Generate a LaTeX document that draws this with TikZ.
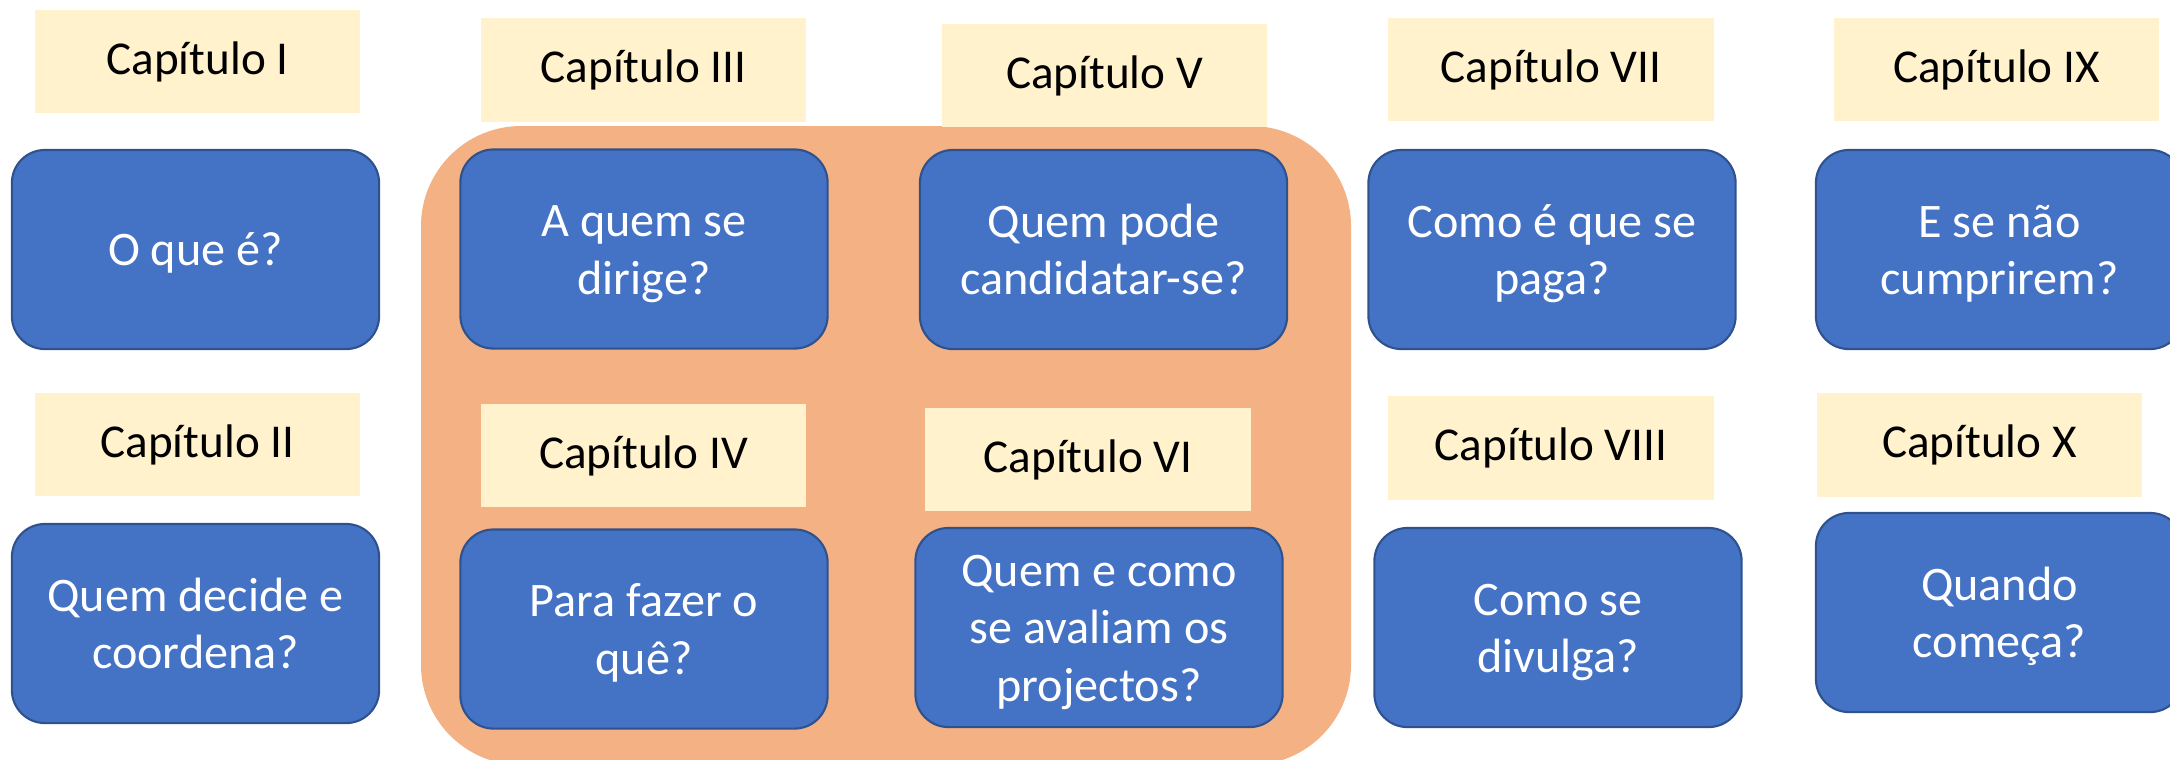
\documentclass[tikz,border=0pt]{standalone}
\usepackage{fontspec}
\setmainfont{Carlito}
\definecolor{cap-cream}{RGB}{255,242,204}
\definecolor{box-blue}{RGB}{68,114,196}
\definecolor{box-edge}{RGB}{47,82,143}
\definecolor{group-orange}{RGB}{244,177,131}
\newcommand{\qtext}[1]{\begin{tabular}{@{}c@{}}#1\end{tabular}}

\begin{document}
\begin{tikzpicture}[x=0.01cm,y=-0.01cm,
  chapter/.style={fill=cap-cream, minimum width=3.25cm, minimum height=1.03cm, inner sep=0pt, font=\fontsize{13.4}{16.3}\selectfont},
  question/.style={fill=box-blue, draw=box-edge, line width=0.6pt, rounded corners=0.33cm, text=white, minimum width=3.67cm, minimum height=1.99cm, inner sep=0pt, font=\fontsize{13.7}{16.3}\selectfont, text height=10pt, text depth=0pt}]
\useasboundingbox (0,0) rectangle (2170,759);
\clip (0,0) rectangle (2170,759);
%Gruppe Kapitel III-VI:
\fill[group-orange, rounded corners=1cm] (421,126) rectangle (1351,765);
%Kapitel-Etiketten:
\node[chapter] (cap1) at (197.5,61.5) {Capítulo I};
\node[chapter] (cap2) at (197.5,444.5) {Capítulo II};
\node[chapter] (cap3) at (643.5,70) {Capítulo III};
\node[chapter] (cap4) at (643.5,455.5) {Capítulo IV};
\node[chapter] (cap5) at (1104.5,75.5) {Capítulo V};
\node[chapter] (cap6) at (1088,459.5) {Capítulo VI};
\node[chapter] (cap7) at (1551,69.5) {Capítulo VII};
\node[chapter] (cap8) at (1551,448) {Capítulo VIII};
\node[chapter] (cap9) at (1996.5,69.5) {Capítulo IX};
\node[chapter] (cap10) at (1979.5,445) {Capítulo X};
%Fragen:
\node[question] (q1) at (195.5,249.5) {\qtext{O que é?}};
\node[question] (q2) at (195.5,623.5) {\qtext{Quem decide e\\coordena?}};
\node[question] (q3) at (644,249) {\qtext{A quem se\\dirige?}};
\node[question] (q4) at (644,629) {\qtext{Para fazer o\\quê?}};
\node[question] (q5) at (1103.5,249.5) {\qtext{Quem pode\\candidatar-se?}};
\node[question] (q6) at (1099,627.5) {\qtext{Quem e como\\se avaliam os\\projectos?}};
\node[question] (q7) at (1552,249.5) {\qtext{Como é que se\\paga?}};
\node[question] (q8) at (1558,627.5) {\qtext{Como se\\divulga?}};
\node[question] (q9) at (1999.5,249.5) {\qtext{E se não\\cumprirem?}};
\node[question] (q10) at (1999.5,612.5) {\qtext{Quando\\começa?}};
\end{tikzpicture}
\end{document}
